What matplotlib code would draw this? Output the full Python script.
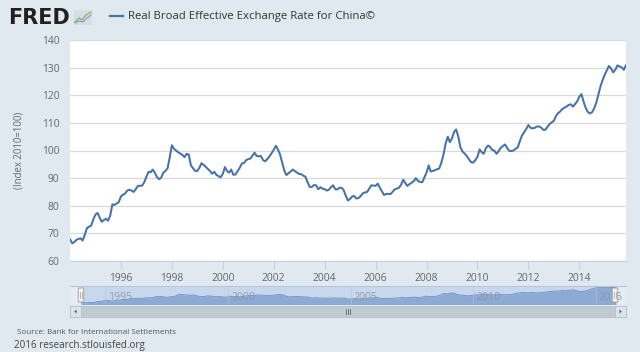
import matplotlib
matplotlib.use("Agg")
import matplotlib.pyplot as plt
import matplotlib.dates as mdates
import matplotlib.patches as mpatches
from matplotlib.lines import Line2D
import numpy as np
import pandas as pd

# ---- data (monthly, Jan 1994 - Nov 2015) ----
v1994 = [67.9, 66.4, 66.8, 67.6, 68.0, 68.2, 67.4, 69.5, 71.9, 72.4, 72.8, 75.0]
v1995 = [76.8, 77.4, 75.8, 74.2, 74.8, 75.3, 74.6, 76.5, 80.5, 80.3, 80.8, 81.3]
v1996 = [83.4, 84.0, 84.4, 85.5, 85.8, 85.5, 85.0, 86.0, 87.2, 87.2, 87.3, 88.5]
v1997 = [90.5, 92.3, 92.1, 93.1, 92.0, 90.4, 89.6, 90.2, 92.0, 92.6, 93.6, 97.5]
v1998 = [101.9, 100.6, 100.0, 99.4, 98.9, 98.4, 97.6, 98.8, 98.5, 94.6, 93.6, 92.6]
v1999 = [92.6, 93.8, 95.4, 94.8, 94.1, 93.3, 92.6, 91.6, 92.3, 91.2, 90.7, 90.3]
v2000 = [91.5, 94.0, 92.6, 92.0, 93.1, 91.2, 91.3, 92.5, 93.8, 95.3, 95.5, 96.5]
v2001 = [96.9, 97.1, 98.1, 99.2, 98.0, 97.9, 98.0, 96.5, 96.1, 96.9, 97.9, 99.0]
v2002 = [100.3, 101.7, 100.4, 98.6, 95.8, 92.8, 91.1, 91.8, 92.4, 93.1, 92.5, 92.0]
v2003 = [91.5, 91.4, 90.9, 90.5, 88.5, 86.8, 86.8, 87.5, 87.4, 86.0, 86.7, 86.2]
v2004 = [86.0, 85.5, 85.8, 86.7, 87.4, 86.0, 85.9, 86.5, 86.5, 85.6, 83.5, 81.9]
v2005 = [82.5, 83.4, 83.5, 82.6, 82.8, 83.5, 84.5, 84.8, 85.0, 86.2, 87.4, 87.3]
v2006 = [87.2, 88.0, 86.6, 85.2, 83.9, 84.3, 84.3, 84.2, 85.0, 85.9, 86.2, 86.5]
v2007 = [87.6, 89.4, 88.3, 87.2, 87.8, 88.3, 88.9, 90.0, 89.0, 88.6, 88.5, 90.2]
v2008 = [92.0, 94.6, 92.4, 92.6, 92.9, 93.2, 93.5, 95.6, 98.6, 102.5, 105.0, 103.0]
v2009 = [104.5, 106.8, 107.6, 105.0, 101.2, 99.6, 98.9, 98.0, 96.8, 95.8, 95.6, 96.5]
v2010 = [97.7, 100.4, 99.4, 98.8, 100.8, 101.8, 101.3, 100.2, 99.9, 98.8, 99.8, 101.0]
v2011 = [101.6, 102.2, 101.0, 99.9, 99.8, 100.0, 100.6, 101.1, 103.4, 105.4, 106.6, 107.8]
v2012 = [109.2, 108.2, 108.0, 108.2, 108.7, 108.7, 108.3, 107.5, 107.5, 108.6, 109.6, 110.2]
v2013 = [110.8, 112.5, 113.5, 114.1, 115.0, 115.5, 115.9, 116.5, 116.7, 115.9, 116.8, 117.8]
v2014 = [119.5, 120.4, 117.8, 115.5, 114.0, 113.4, 113.8, 115.2, 117.3, 120.3, 123.3, 125.5]
v2015 = [127.5, 129.1, 130.6, 129.7, 128.3, 129.2, 130.8, 130.4, 130.1, 129.2, 130.9]

values = (v1994 + v1995 + v1996 + v1997 + v1998 + v1999 + v2000 + v2001 + v2002 +
          v2003 + v2004 + v2005 + v2006 + v2007 + v2008 + v2009 + v2010 + v2011 +
          v2012 + v2013 + v2014 + v2015)
dates = pd.date_range("1994-01-01", periods=len(values), freq="MS")

series_name = "Real Broad Effective Exchange Rate for China\u00a9"
y_label = "(Index 2010=100)"
y_ticks = [60, 70, 80, 90, 100, 110, 120, 130, 140]
x_tick_years = [1996, 1998, 2000, 2002, 2004, 2006, 2008, 2010, 2012, 2014]
nav_years = [1995, 2000, 2005, 2010, 2015]
source_text = "Source: Bank for International Settlements"
credit_text = "2016 research.stlouisfed.org"

# ---- style ----
plt.rcParams['font.family'] = ['Open Sans', 'DejaVu Sans']
BG = '#E1E9F0'
LINE = '#4572A7'
W, H = 640, 352

fig = plt.figure(figsize=(W / 100, H / 100), dpi=100, facecolor=BG)


def fx(x):
    return x / W


def fy(y):
    return 1 - y / H


def rect_ax(l, t, r, b):
    return [fx(l), fy(b), fx(r) - fx(l), fy(t) - fy(b)]


# ---- main axes ----
ax = fig.add_axes(rect_ax(70, 40, 626, 261))
ax.set_facecolor('white')
ax.plot(dates, values, color=LINE, lw=1.45, solid_joinstyle='round', zorder=3)
ax.set_xlim(dates[0], dates[-1])
ax.set_ylim(60, 140)
ax.set_yticks(y_ticks)
ax.yaxis.grid(True, color='#D9D9D9', lw=0.9)
ax.set_axisbelow(True)
ax.set_xticks([pd.Timestamp(f"{y}-01-01") for y in x_tick_years])
ax.xaxis.set_major_formatter(mdates.DateFormatter('%Y'))
for s in ['left', 'right', 'top']:
    ax.spines[s].set_visible(False)
ax.spines['bottom'].set_color('#C0D0E0')
ax.spines['bottom'].set_linewidth(0.8)
ax.tick_params(axis='y', length=0, pad=7.5, labelsize=7.4, labelcolor='#666666')
ax.tick_params(axis='x', length=6, width=0.8, color='#C0D0E0', pad=2.5,
               labelsize=7.4, labelcolor='#666666')

fig.text(fx(19), fy(150.5), y_label, rotation=90, ha='center', va='center',
         fontsize=6.9, color='#666666')

# ---- header ----
fig.text(fx(8), fy(17.5), "FRED", fontsize=15.0, fontweight='heavy',
         family='DejaVu Sans', color='#231F20', ha='left', va='center')
fig.patches.append(mpatches.Rectangle((fx(74), fy(25)), fx(18), fy(10) - fy(25),
                                      transform=fig.transFigure, facecolor='#D5DDE5',
                                      edgecolor='none'))
fig.lines.append(Line2D([fx(75), fx(79), fx(82), fx(86), fx(91)],
                        [fy(22), fy(18), fy(20), fy(15), fy(12)],
                        transform=fig.transFigure, color='#8DB86B', lw=1.0))
fig.lines.append(Line2D([fx(75), fx(79), fx(83), fx(87), fx(91)],
                        [fy(23), fy(21), fy(22), fy(18), fy(15)],
                        transform=fig.transFigure, color='#7F9CC4', lw=0.8))

fig.lines.append(Line2D([fx(110), fx(123)], [fy(16), fy(16)],
                        transform=fig.transFigure, color=LINE, lw=1.6))
fig.text(fx(128), fy(16), series_name, fontsize=8.2, color='#333333',
         ha='left', va='center')

# ---- navigator ----
fig.patches.append(mpatches.Rectangle((fx(70), fy(304)), fx(556), fy(286) - fy(304),
                                      transform=fig.transFigure, facecolor='#E6ECF3',
                                      edgecolor='none', zorder=-2))
fig.lines.append(Line2D([fx(70), fx(626)], [fy(286), fy(286)],
                        transform=fig.transFigure, color='#B9C6D6', lw=0.8, zorder=-1))

nav = fig.add_axes(rect_ax(81, 286.5, 616, 304))
nav.set_zorder(1)
nav.set_facecolor('#C6D7EE')
vals = np.array(values)
nav.fill_between(dates, vals, 0, color='#8DAAD5', lw=0)
nav.plot(dates, vals, color='#6E91C4', lw=0.6)
nav.set_xlim(dates[0], dates[-1])
nav.set_ylim(62, 133.5)
nav.set_xticks([])
nav.set_yticks([])
for s in nav.spines.values():
    s.set_visible(False)
for yr in nav_years:
    d = pd.Timestamp(f"{yr}-01-01")
    nav.axvline(d, color='#B5C5DA', lw=0.6, alpha=0.6)
    nav.annotate(str(yr), xy=(mdates.date2num(d), 0.5), xycoords=('data', 'axes fraction'),
                 xytext=(2.2, -1.5), textcoords='offset points', ha='left', va='center',
                 fontsize=7.6, color='#8C97A3', alpha=0.9, annotation_clip=False)

for hx in (81, 615):
    fig.patches.append(mpatches.FancyBboxPatch((fx(hx - 2.8), fy(302)), fx(5.6), fy(288) - fy(302),
                                               boxstyle='round,pad=0.0',
                                               transform=fig.transFigure, facecolor='#F2F2F2',
                                               edgecolor='#9A9A9A', lw=0.6, zorder=5))
    for gx in (hx - 0.8, hx + 0.8):
        fig.lines.append(Line2D([fx(gx), fx(gx)], [fy(292), fy(298)],
                                transform=fig.transFigure, color='#9A9A9A', lw=0.5, zorder=6))

# ---- scrollbar ----
fig.patches.append(mpatches.Rectangle((fx(70), fy(317)), fx(556), fy(306) - fy(317),
                                      transform=fig.transFigure, facecolor='#C1C9D2',
                                      edgecolor='#B3BCC6', lw=0.5))
for bx0 in (70, 615):
    fig.patches.append(mpatches.Rectangle((fx(bx0), fy(317)), fx(11), fy(306) - fy(317),
                                          transform=fig.transFigure, facecolor='#DDE3EA',
                                          edgecolor='#B3BCC6', lw=0.5))
fig.patches.append(mpatches.Polygon([(fx(76.5), fy(309.5)), (fx(76.5), fy(313.5)), (fx(74.3), fy(311.5))],
                                    closed=True, transform=fig.transFigure, facecolor='#555555',
                                    edgecolor='none'))
fig.patches.append(mpatches.Polygon([(fx(619.5), fy(309.5)), (fx(619.5), fy(313.5)), (fx(621.7), fy(311.5))],
                                    closed=True, transform=fig.transFigure, facecolor='#555555',
                                    edgecolor='none'))
for gx in (346, 348, 350):
    fig.lines.append(Line2D([fx(gx), fx(gx)], [fy(309), fy(314)],
                            transform=fig.transFigure, color='#666666', lw=0.6))

# ---- footer ----
fig.text(fx(17), fy(333), source_text, fontsize=5.8, color='#555555', ha='left', va='center')
fig.text(fx(14), fy(345.5), credit_text, fontsize=7.1, color='#444444', ha='left', va='center')

fig.savefig("out.png", dpi=100, facecolor=BG)
